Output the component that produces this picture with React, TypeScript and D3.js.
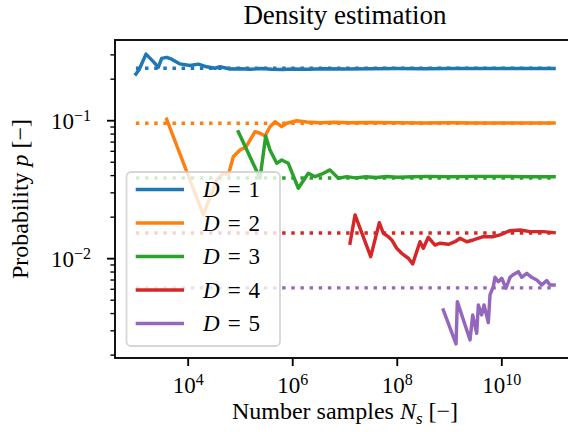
import React from 'react';
import * as d3 from 'd3';

// Figure geometry (pixels)
const W = 568;
const H = 432;
const AX = { left: 115, right: 575, top: 40, bottom: 358 };

// Series metadata
const dims = [1, 2, 3, 4, 5];
const colors = ['#1f77b4', '#ff7f0e', '#2ca02c', '#d62728', '#9467bd'];
// Exact probabilities (dotted reference lines)
const exactP = [0.24, 0.096, 0.0384, 0.01536, 0.006144];
const nRange = [1e3, 1e11];

// Running estimates: log10 of the sample count and the estimated probability
const logN1 = [3.0, 3.065, 3.193, 3.333, 3.428, 3.493, 3.589, 3.685, 3.844, 4.035, 4.194, 4.354, 4.513, 4.609, 4.8, 5.0, 5.2, 5.4, 5.6, 5.8, 6.0, 6.3, 6.6, 7.0, 7.5, 8.0, 8.5, 9.0, 9.5, 10.0, 10.5, 11.0];
const p1 = [0.218, 0.236, 0.304, 0.268, 0.244, 0.283, 0.288, 0.279, 0.258, 0.251, 0.257, 0.246, 0.24, 0.246, 0.237, 0.238, 0.236, 0.239, 0.236, 0.235, 0.237, 0.236, 0.238, 0.237, 0.238, 0.239, 0.238, 0.239, 0.239, 0.239, 0.239, 0.239];

const logN2 = [3.589, 4.289, 4.546, 4.672, 4.768, 4.863, 4.991, 5.106, 5.183, 5.278, 5.374, 5.47, 5.565, 5.661, 5.789, 5.885, 6.076, 6.267, 6.522, 6.8, 7.1, 7.5, 8.0, 8.5, 9.0, 9.5, 10.0, 10.5, 11.0];
const p2 = [0.1023, 0.0208, 0.0372, 0.0416, 0.0405, 0.0548, 0.0614, 0.0645, 0.0724, 0.0832, 0.0811, 0.0774, 0.0905, 0.0984, 0.0905, 0.0958, 0.1, 0.098, 0.0967, 0.0975, 0.0965, 0.0972, 0.0968, 0.0963, 0.0966, 0.0962, 0.0964, 0.0962, 0.0961];

const logN3 = [4.959, 5.374, 5.483, 5.565, 5.694, 5.789, 5.915, 6.107, 6.298, 6.426, 6.56, 6.713, 6.872, 7.033, 7.2, 7.4, 7.6, 7.8, 8.0, 8.3, 8.6, 9.0, 9.5, 10.0, 10.5, 11.0];
const p3 = [0.0832, 0.0383, 0.0774, 0.0614, 0.0491, 0.0519, 0.0491, 0.0324, 0.0416, 0.0393, 0.0411, 0.044, 0.0383, 0.0393, 0.0385, 0.0392, 0.0388, 0.0394, 0.0389, 0.0392, 0.0395, 0.0393, 0.0395, 0.0394, 0.0393, 0.0392];

const logN4 = [7.096, 7.192, 7.492, 7.657, 7.733, 7.829, 7.894, 7.989, 8.085, 8.211, 8.295, 8.372, 8.435, 8.498, 8.594, 8.722, 8.818, 8.977, 9.105, 9.2, 9.329, 9.455, 9.646, 9.837, 9.966, 10.157, 10.348, 10.54, 10.794, 11.0];
const p4 = [0.01294, 0.02075, 0.01034, 0.01824, 0.01528, 0.01443, 0.01366, 0.0119, 0.01094, 0.01007, 0.00916, 0.01125, 0.01328, 0.0119, 0.01429, 0.01256, 0.01294, 0.01271, 0.01327, 0.01406, 0.01327, 0.01366, 0.01443, 0.01443, 0.01486, 0.01596, 0.01614, 0.0157, 0.0157, 0.01543];

const logN5 = [8.881, 9.124, 9.149, 9.392, 9.443, 9.52, 9.551, 9.615, 9.66, 9.742, 9.774, 9.837, 9.87, 9.933, 9.998, 10.08, 10.157, 10.209, 10.316, 10.381, 10.477, 10.572, 10.668, 10.763, 10.859, 10.922, 11.0];
const p5 = [0.004246, 0.00241, 0.00488, 0.002576, 0.00391, 0.002879, 0.004618, 0.00391, 0.00462, 0.003437, 0.005457, 0.006266, 0.007329, 0.006811, 0.007213, 0.006103, 0.007329, 0.007616, 0.008048, 0.007329, 0.007834, 0.007329, 0.007015, 0.006452, 0.006934, 0.006452, 0.006452];

const seriesLogN = [logN1, logN2, logN3, logN4, logN5];
const seriesP = [p1, p2, p3, p4, p5];

// Axis ticks
const xTicks = [1e4, 1e6, 1e8, 1e10];
const xTickExp = ['4', '6', '8', '10'];
const yTicks = [1e-1, 1e-2];
const yTickExp = ['\u22121', '\u22122'];
const yMinorTicks = [0.002, 0.003, 0.004, 0.005, 0.006, 0.007, 0.008, 0.009, 0.02, 0.03, 0.04, 0.05, 0.06, 0.07, 0.08, 0.09, 0.2, 0.3];

const FONT = '"Liberation Serif", "Times New Roman", serif';
const TICK_FS = 23;
const SUP_FS = 16;
const LW = 3.45;

export default function App() {
  const x = d3.scaleLog().domain([10 ** 2.6, 10 ** 11.4]).range([AX.left, AX.right]);
  const y = d3.scaleLog().domain([10 ** -2.72, 10 ** -0.415]).range([AX.bottom, AX.top]);

  const line = d3
    .line<[number, number]>()
    .x((d) => x(d[0]))
    .y((d) => y(d[1]));

  const series = dims.map((_, i) =>
    seriesLogN[i].map((e, j) => [10 ** e, seriesP[i][j]] as [number, number])
  );

  const legendRowY = (i: number) => 189.5 + i * 33.5;

  return (
    <svg
      width={W}
      height={H}
      style={{ position: 'absolute', left: 0, top: 0, background: '#fff' }}
      fontFamily={FONT}
    >
      <rect x={0} y={0} width={W} height={H} fill="#fff" />

      {/* estimates and exact values */}
      {series.map((pts, i) => (
        <g key={`s${i}`}>
          <path
            d={line(pts) || ''}
            fill="none"
            stroke={colors[i]}
            strokeWidth={LW}
            strokeLinejoin="round"
            strokeLinecap="square"
          />
          <path
            d={line([[nRange[0], exactP[i]], [nRange[1], exactP[i]]]) || ''}
            fill="none"
            stroke={colors[i]}
            strokeWidth={LW}
            strokeDasharray="3.45 5.69"
            strokeLinecap="butt"
          />
        </g>
      ))}

      {/* spines */}
      <rect
        x={AX.left}
        y={AX.top}
        width={AX.right - AX.left}
        height={AX.bottom - AX.top}
        fill="none"
        stroke="#000"
        strokeWidth={1.84}
      />

      {/* x ticks */}
      {xTicks.map((t, i) => (
        <g key={`xt${i}`}>
          <line x1={x(t)} x2={x(t)} y1={AX.bottom} y2={AX.bottom + 8} stroke="#000" strokeWidth={1.84} />
          <text x={x(t)} y={AX.bottom + 35} textAnchor="middle" fontSize={TICK_FS} fill="#000">
            10
            <tspan dy={-8.5} fontSize={SUP_FS}>
              {xTickExp[i]}
            </tspan>
          </text>
        </g>
      ))}

      {/* y ticks */}
      {yMinorTicks.map((t, i) => (
        <line key={`ym${i}`} x1={AX.left - 4.6} x2={AX.left} y1={y(t)} y2={y(t)} stroke="#000" strokeWidth={1.38} />
      ))}
      {yTicks.map((t, i) => (
        <g key={`yt${i}`}>
          <line x1={AX.left - 8} x2={AX.left} y1={y(t)} y2={y(t)} stroke="#000" strokeWidth={1.84} />
          <text x={AX.left - 64} y={y(t) + 8.5} textAnchor="start" fontSize={TICK_FS} fill="#000">
            10
            <tspan dy={-8.5} fontSize={SUP_FS}>
              {yTickExp[i]}
            </tspan>
          </text>
        </g>
      ))}

      {/* axis labels and title */}
      <text x={(AX.left + AX.right) / 2} y={24} textAnchor="middle" fontSize={27} fill="#000">
        Density estimation
      </text>
      <text x={345} y={419} textAnchor="middle" fontSize={24} fill="#000">
        Number samples <tspan fontStyle="italic">N</tspan>
        <tspan fontStyle="italic" fontSize={17} dy={5}>s</tspan>
        <tspan dy={-5}> [{'\u2212'}]</tspan>
      </text>
      <text transform="translate(28,199) rotate(-90)" textAnchor="middle" fontSize={24} fill="#000">
        Probability <tspan fontStyle="italic">p</tspan> [{'\u2212'}]
      </text>

      {/* legend */}
      <rect
        x={126.5}
        y={172}
        width={153.5}
        height={174}
        rx={4.6}
        fill="#fff"
        fillOpacity={0.8}
        stroke="#cccccc"
        strokeOpacity={0.8}
        strokeWidth={1.8}
      />
      {dims.map((d, i) => (
        <g key={`lg${i}`}>
          <line
            x1={135.7}
            x2={184}
            y1={legendRowY(i)}
            y2={legendRowY(i)}
            stroke={colors[i]}
            strokeWidth={LW}
          />
          <text x={203} y={legendRowY(i) + 7.5} fontSize={23} fill="#000">
            <tspan fontStyle="italic">D</tspan>
            <tspan dx={8}>=</tspan>
            <tspan dx={8}>{d}</tspan>
          </text>
        </g>
      ))}
    </svg>
  );
}
